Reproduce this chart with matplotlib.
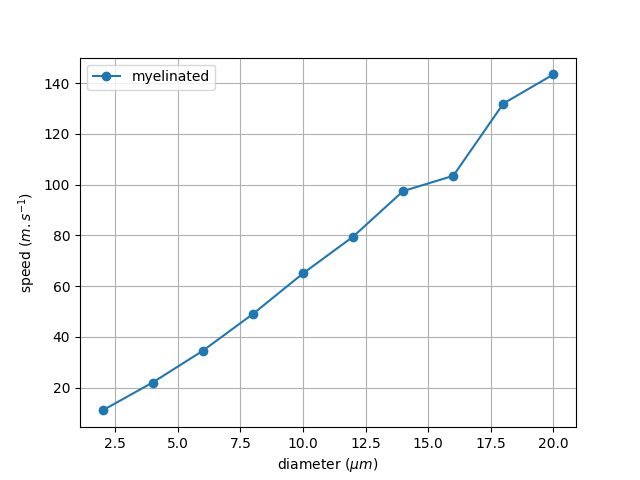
import matplotlib
matplotlib.use("Agg")
import matplotlib.pyplot as plt

diameter = [2, 4, 6, 8, 10, 12, 14, 16, 18, 20]
speed = [11, 22, 34.5, 49, 65, 79.5, 97.5, 103.5, 132, 143.5]

fig, ax = plt.subplots(figsize=(6.4, 4.8), dpi=100)
ax.plot(diameter, speed, marker='o', label='myelinated')
ax.set_xlabel(r'diameter ($\mu m$)')
ax.set_ylabel(r'speed ($m.s^{-1}$)')
ax.grid(True)
ax.legend(loc='upper left')
fig.savefig('out.png')
